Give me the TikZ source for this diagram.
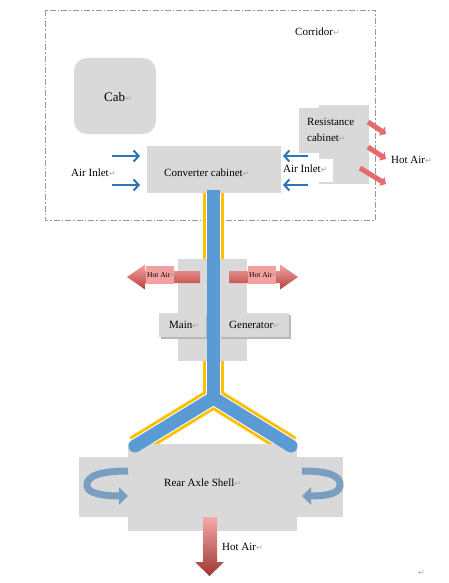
\documentclass[tikz,border=0pt]{standalone}
\usepackage{fontspec}
\setmainfont{Liberation Serif}
\newfontfamily\markfont{DejaVu Sans}
\usetikzlibrary{arrows.meta}
\definecolor{boxgray}{HTML}{D9D9D9}
\definecolor{shadowgray}{HTML}{B8B8B8}
\definecolor{inletblue}{HTML}{2E75B6}
\definecolor{ductblue}{HTML}{5B9BD5}
\definecolor{ductyellow}{HTML}{FFC000}
\definecolor{swirlblue}{HTML}{7A9EC2}
\definecolor{hotlight}{HTML}{F4A3A0}
\definecolor{hotdark}{HTML}{B8403C}
\definecolor{hotpink}{HTML}{F3A0A0}
\definecolor{hotmid}{HTML}{E46C6A}
\newcommand\pmark{{\markfont\fontsize{8}{8}\selectfont\color{gray!70}↵}}
\tikzset{
  lbl/.style={anchor=west, inner sep=0pt, font=\fontsize{11}{13}\selectfont},
  smalllbl/.style={anchor=west, inner sep=0pt, font=\fontsize{7.5}{9}\selectfont},
  inlet/.style={draw=inletblue, line width=2pt, -{Straight Barb[length=5pt,width=11pt,line width=2pt]}},
  resarrow/.style={draw=hotmid, line width=5pt, -{Triangle[length=5pt,width=10pt]}},
  swirl/.style={draw=swirlblue, line width=7pt, -{Triangle[length=9pt,width=17pt]}},
}
\begin{document}
\begin{tikzpicture}[x=1pt,y=-1pt]
\path[use as bounding box, fill=white] (0,0) rectangle (448,583);

% corridor
\draw[gray!80, line width=0.8pt, dash pattern=on 6pt off 2pt on 1.5pt off 2pt] (45,10) rectangle (375,220);
\node[lbl] (corridor) at (295,32) {Corridor\pmark};

% cab
\fill[boxgray, rounded corners=13pt] (74,58) rectangle (156,134);
\node[lbl, font=\fontsize{13}{15}\selectfont] (cab) at (104,97) {Cab\pmark};

% duct (yellow border, white gap)
\coordinate (ductTop) at (213.5,190);
\coordinate (junction) at (213.5,398);
\coordinate (legL) at (135,446);
\coordinate (legR) at (291,446);
\draw[ductyellow, line width=21pt] (ductTop) -- (junction);
\draw[ductyellow, line width=21pt, line join=miter] (legL) -- (junction) -- (legR);
\draw[white, line width=15pt] (ductTop) -- (junction);
\draw[white, line width=15pt, line join=miter] (legL) -- (junction) -- (legR);

% converter cabinet
\fill[boxgray] (147,146) rectangle (281,193);
\node[lbl] (conv) at (164,173) {Converter cabinet\pmark};

% left inlet
\node[lbl] (inL) at (71,173) {Air Inlet\pmark};
\coordinate (iL1) at (112,156); \coordinate (iL1e) at (140,156);
\coordinate (iL2) at (112,185); \coordinate (iL2e) at (140,185);
\draw[inlet] (iL1) -- (iL1e);
\draw[inlet] (iL2) -- (iL2e);

% resistance cabinet
\fill[boxgray] (299,108) rectangle (365,153);
\fill[boxgray] (319,105) rectangle (369,184);
\node[lbl] (res1) at (307,122) {Resistance};
\node[lbl] (res2) at (307,138) {cabinet\pmark};

% right inlet
\fill[white] (282,159) rectangle (333,182);
\node[lbl] (inR) at (283,169) {Air Inlet\pmark};
\coordinate (iR1) at (308,156); \coordinate (iR1e) at (283,156);
\coordinate (iR2) at (308,185); \coordinate (iR2e) at (283,185);
\draw[inlet] (iR1) -- (iR1e);
\draw[inlet] (iR2) -- (iR2e);

% resistance hot air
\coordinate (r1s) at (368,122); \coordinate (r1e) at (386,134);
\coordinate (r2s) at (368,147); \coordinate (r2e) at (386,159);
\coordinate (r3s) at (360,168); \coordinate (r3e) at (386,184);
\draw[resarrow] (r1s) -- (r1e);
\draw[resarrow] (r2s) -- (r2e);
\draw[resarrow] (r3s) -- (r3e);
\node[lbl] (hotR) at (391,160) {Hot Air\pmark};

% main / generator block
\fill[boxgray] (178,259) rectangle (247,361);
\fill[shadowgray] (160.5,314.5) rectangle (207.5,338.5);
\fill[boxgray] (159,313) rectangle (206,337);
\fill[shadowgray] (220.5,314.5) rectangle (290.5,338.5);
\fill[boxgray] (219,313) rectangle (289,337);
\node[lbl] (main) at (169,325) {Main\pmark};
\node[lbl] (gen) at (229,325) {Generator\pmark};

% side hot air arrows
\shade[top color=hotlight, bottom color=hotdark]
  (200,271) -- (145,271) -- (145,264.5) -- (127,277) -- (145,289.5) -- (145,283) -- (200,283) -- cycle;
\shade[top color=hotlight, bottom color=hotdark]
  (229,271) -- (280,271) -- (280,264.5) -- (298,277) -- (280,289.5) -- (280,283) -- (229,283) -- cycle;
\fill[hotpink] (146,266) rectangle (174,284);
\fill[hotpink] (248,266) rectangle (276,284);
\node[smalllbl] (hotML) at (147,275) {Hot Air\pmark};
\node[smalllbl] (hotMR) at (249,275) {Hot Air\pmark};

% rear axle shell
\fill[boxgray] (79,457) rectangle (343,517);
\fill[boxgray] (128,444) rectangle (297,531);
\node[lbl] (axle) at (164,483) {Rear Axle Shell\pmark};

% blue duct on top
\draw[ductblue, line width=13pt] (ductTop) -- (junction);
\draw[ductblue, line width=13pt, line cap=round, line join=round] (legL) -- (junction) -- (legR);

% swirl arrows
\coordinate (swL) at (128,471);
\coordinate (swLe) at (128,496);
\draw[swirl] (swL) .. controls (100,471) and (86,476) .. (87,486)
  .. controls (88,494) and (105,496) .. (swLe);
\coordinate (swR) at (302,471);
\coordinate (swRe) at (302,496);
\draw[swirl] (swR) .. controls (330,471) and (341,476) .. (340,486)
  .. controls (339,494) and (325,496) .. (swRe);

% bottom hot air
\shade[top color=hotpink!90!white, bottom color=hotdark!85!black]
  (203,517) -- (217,517) -- (217,562) -- (224,562) -- (209.5,576) -- (195,562) -- (203,562) -- cycle;
\fill[white] (219,538) rectangle (260,556);
\node[lbl] (hotB) at (222,547) {Hot Air\pmark};

\node[anchor=west, inner sep=0pt] (endmark) at (418,573) {\pmark};
\end{tikzpicture}
\end{document}
